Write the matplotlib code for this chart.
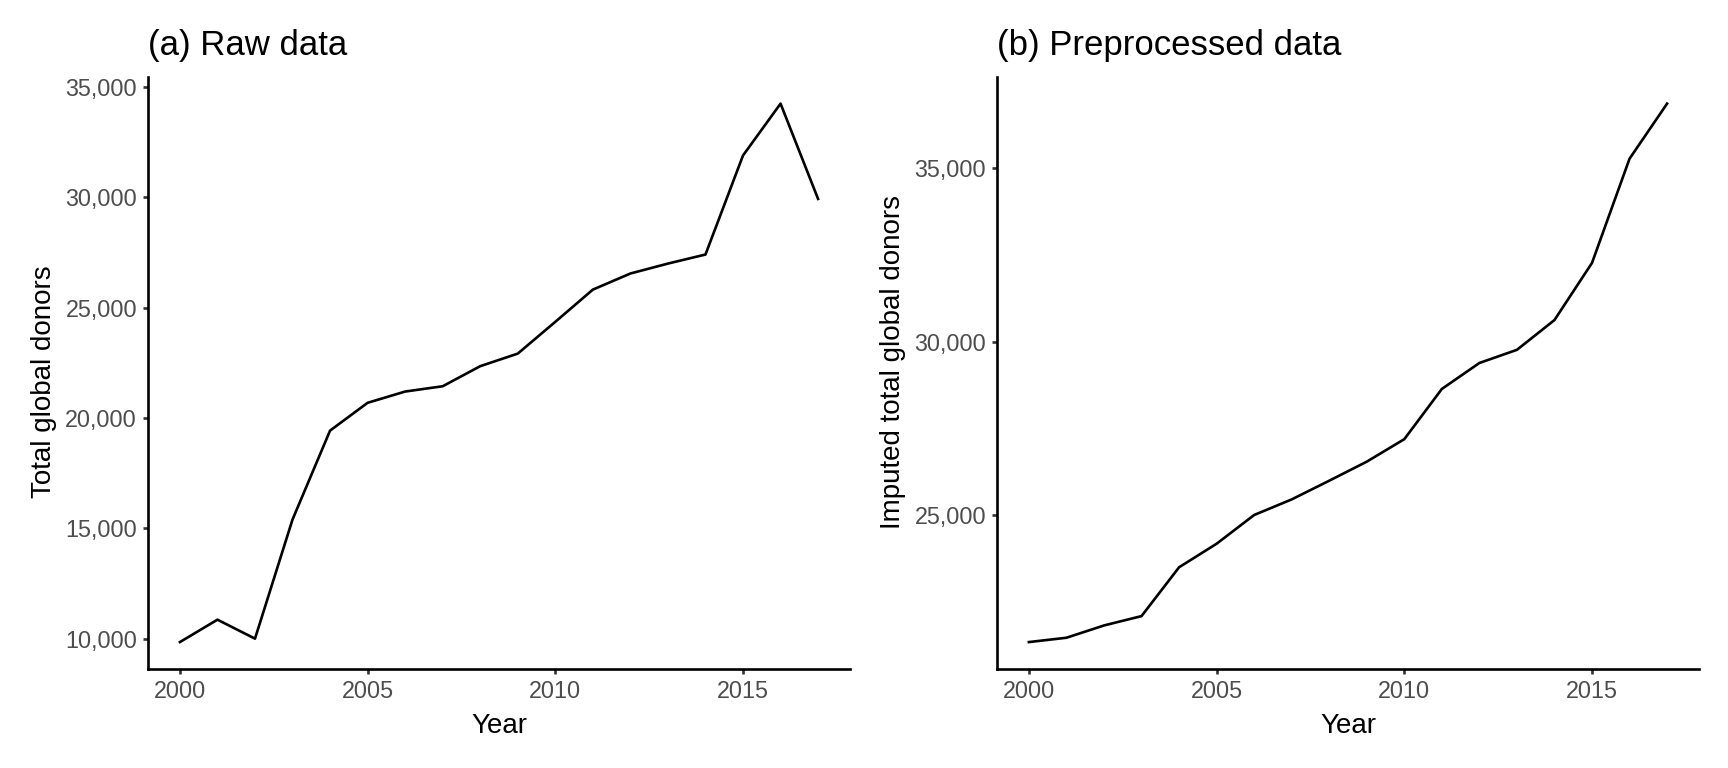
import numpy as np
import matplotlib
matplotlib.use('Agg')
import matplotlib.pyplot as plt
from matplotlib.ticker import StrMethodFormatter

plt.rcParams['font.family'] = ['Liberation Sans', 'DejaVu Sans']

# Data
years = np.arange(2000, 2018)

raw_donors = [9845, 10860, 10000, 15400, 19430, 20690, 21200, 21440, 22350,
              22920, 24360, 25820, 26550, 27000, 27410, 31900, 34250, 29930]

imputed_donors = [21320, 21445, 21800, 22070, 23480, 24160, 24990, 25440, 25980,
                  26530, 27180, 28630, 29380, 29760, 30620, 32270, 35280, 36870]

x_ticks = [2000, 2005, 2010, 2015]
raw_y_ticks = [10000, 15000, 20000, 25000, 30000, 35000]
imputed_y_ticks = [25000, 30000, 35000]


def expand(values, frac=0.05):
    lo, hi = min(values), max(values)
    pad = (hi - lo) * frac
    return lo - pad, hi + pad


def style_panel(ax, y, yticks, title, ylabel, label_y):

    ax.plot(years, y, color='black', linewidth=1.9, solid_joinstyle='round')

    ax.set_xlim(expand(years, 0.05))
    ax.set_ylim(expand(y, 0.05))
    ax.set_xticks(x_ticks)
    ax.set_yticks(yticks)
    ax.yaxis.set_major_formatter(StrMethodFormatter('{x:,.0f}'))

    for side in ['top', 'right']:
        ax.spines[side].set_visible(False)
    for side in ['left', 'bottom']:
        ax.spines[side].set_linewidth(1.9)
        ax.spines[side].set_color('black')

    ax.tick_params(axis='both', length=3.4, width=1.9, color='#333333',
                   labelsize=16.8, labelcolor='#4D4D4D', pad=4.5)

    ax.set_title(title, loc='left', fontsize=25, pad=15.6, color='black')
    ax.set_xlabel('Year', fontsize=20)
    ax.set_ylabel(ylabel, fontsize=20)
    ax.xaxis.set_label_coords(0.5, -0.0743)
    ax.yaxis.set_label_coords(-0.130, label_y)


def main():

    fig = plt.figure(figsize=(17.28, 7.68), dpi=100)

    # Panel positions in figure fractions (pixels / 1728, 768)
    bottom = (768 - 669) / 768
    height = (669 - 76.7) / 768
    ax1 = fig.add_axes([148 / 1728, bottom, 702 / 1728, height])
    ax2 = fig.add_axes([997 / 1728, bottom, 702 / 1728, height])

    style_panel(ax1, raw_donors, raw_y_ticks, '(a) Raw data',
                'Total global donors', 0.4846)
    style_panel(ax2, imputed_donors, imputed_y_ticks, '(b) Preprocessed data',
                'Imputed total global donors', 0.5175)

    fig.savefig('out.png', dpi=100, facecolor='white')


if __name__ == '__main__':
    main()
